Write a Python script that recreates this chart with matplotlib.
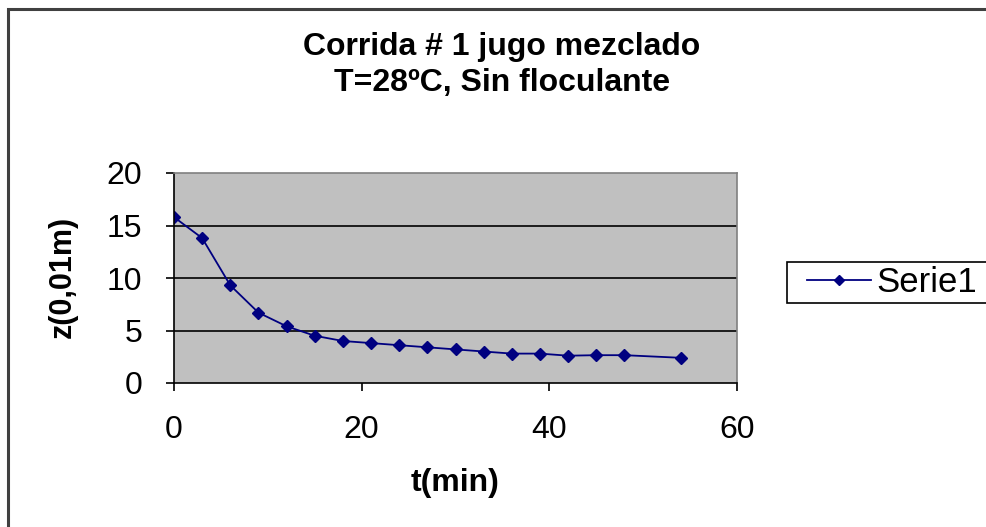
import matplotlib
matplotlib.use("Agg")
import matplotlib.pyplot as plt
from matplotlib.patches import Rectangle
from matplotlib.legend_handler import HandlerLine2D

t_min = [0, 3, 6, 9, 12, 15, 18, 21, 24, 27, 30, 33, 36, 39, 42, 45, 48, 54]
z_vals = [15.8, 13.8, 9.3, 6.7, 5.4, 4.5, 4.0, 3.8, 3.6, 3.4, 3.2, 3.0, 2.8, 2.8, 2.6, 2.65, 2.65, 2.4]
x_ticks = [0, 20, 40, 60]
y_ticks = [0, 5, 10, 15, 20]
title = "Corrida # 1 jugo mezclado\nT=28ºC, Sin floculante"
series_name = "Serie1"

plt.rcParams['font.family'] = ['Liberation Sans', 'DejaVu Sans']

fig = plt.figure(figsize=(9.86, 5.27), dpi=100)
W, H = 986, 527
fig.patches.append(Rectangle((8 / W, -0.1), 1.2, 1 - 9 / H + 0.1, transform=fig.transFigure,
                             fill=False, edgecolor='#404040', linewidth=2.2))

ax = fig.add_axes([174 / W, 1 - 383 / H, (737 - 174) / W, (383 - 173) / H])
ax.set_facecolor('#C0C0C0')
line, = ax.plot(t_min, z_vals, color='#000080', marker='D', markersize=6.5, linewidth=1.3,
                label=series_name)
ax.set_xlim(0, 60)
ax.set_ylim(0, 20)
ax.set_xticks(x_ticks)
ax.set_yticks(y_ticks)
for y in y_ticks[1:-1]:
    ax.axhline(y, color='black', linewidth=1.2, zorder=1)
ax.tick_params(axis='both', labelsize=23, length=6, width=1.2, direction='out', color='black')
ax.tick_params(axis='x', pad=17)
ax.tick_params(axis='y', pad=17)
for s in ['left', 'bottom']:
    ax.spines[s].set_color('black')
    ax.spines[s].set_linewidth(1.2)
for s in ['top', 'right']:
    ax.spines[s].set_color('#808080')
    ax.spines[s].set_linewidth(1.2)

fig.text(502 / W, 1 - 65 / H, title, ha='center', va='center', fontsize=23, fontweight='bold',
         linespacing=1.27)
fig.text(455 / W, 1 - 483 / H, 't(min)', ha='center', va='center', fontsize=23, fontweight='bold')
fig.text(63 / W, 1 - 277 / H, 'z(0,01m)', ha='center', va='center', fontsize=22, fontweight='bold',
         rotation=90)

leg = fig.legend(handles=[line], labels=[series_name], loc='upper left',
                 bbox_to_anchor=(787 / W, 0, 0.3, 1 - 262 / H), mode='expand', fontsize=25,
                 frameon=True, fancybox=False, edgecolor='black', framealpha=1,
                 handlelength=2.3, handletextpad=0.15, borderpad=0.12, borderaxespad=0,
                 markerscale=0.75, handler_map={line: HandlerLine2D(xpad=0.45)})
leg.get_frame().set_linewidth(1.2)

fig.savefig('out.png', dpi=100)
